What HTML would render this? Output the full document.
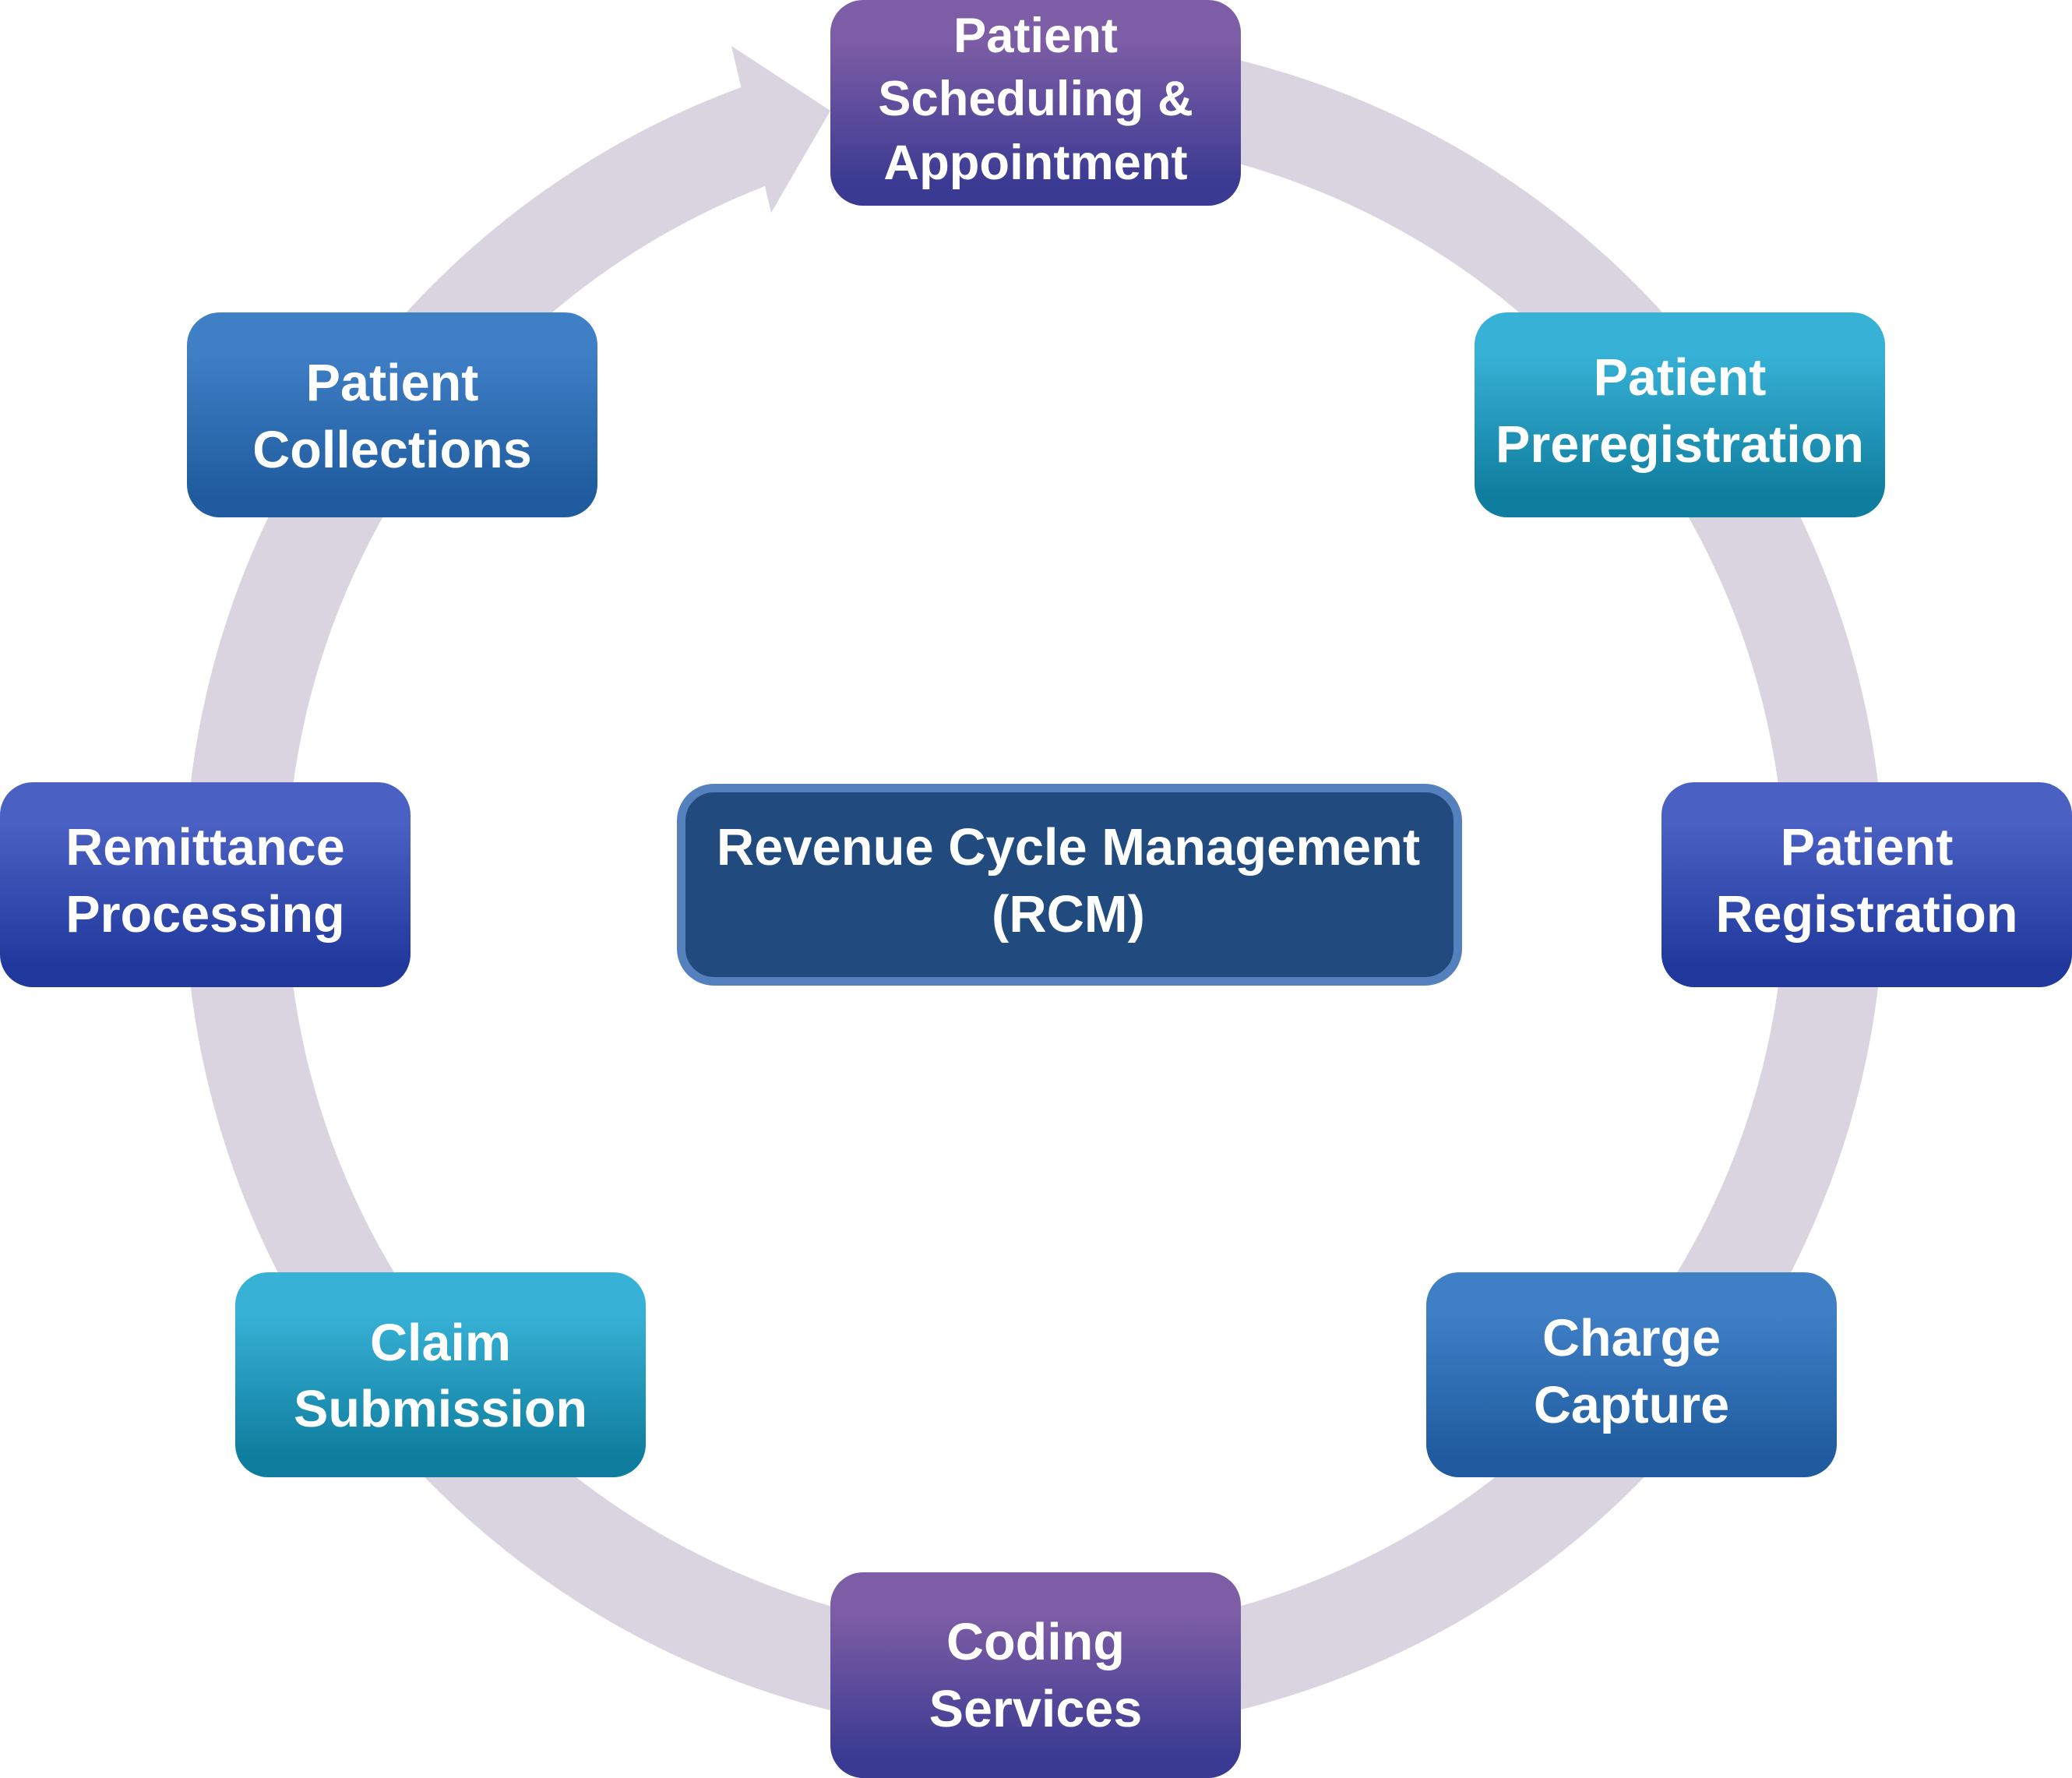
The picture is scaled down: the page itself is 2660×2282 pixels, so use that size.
<!DOCTYPE html>
<html lang="en">
<head>
<meta charset="utf-8">
<title>Revenue Cycle Management</title>
<style>
html,body{margin:0;padding:0;background:#fff;width:2660px;height:2282px;overflow:hidden}
svg{display:block}
text{font-family:"Liberation Sans",Arial,sans-serif;font-weight:700;fill:#fff;text-anchor:middle;font-size:66.5px}
</style>
</head>
<body>
<svg width="2660" height="2282" viewBox="0 0 2660 2282" xmlns="http://www.w3.org/2000/svg">
<defs>
<linearGradient id="purple" x1="0" y1="0" x2="0" y2="1"><stop offset=".2" stop-color="#7D5DA5"/><stop offset=".9" stop-color="#3A3A92"/></linearGradient>
<linearGradient id="cyan" x1="0" y1="0" x2="0" y2="1"><stop offset=".2" stop-color="#37B1D6"/><stop offset=".9" stop-color="#0F7D9E"/></linearGradient>
<linearGradient id="blue" x1="0" y1="0" x2="0" y2="1"><stop offset=".2" stop-color="#3F7FC6"/><stop offset=".9" stop-color="#1F5B9E"/></linearGradient>
<linearGradient id="indigo" x1="0" y1="0" x2="0" y2="1"><stop offset=".2" stop-color="#4A60C3"/><stop offset=".9" stop-color="#20389C"/></linearGradient>
</defs>

<path fill="#D9D4E0" d="M1330,45 A1091,1091 0 1 1 951.5,112 L939,59 L1066,142 L990,273 L982,239 A962,962 0 1 0 1330,174 Z"/>

<rect x="1066" y="0" width="527" height="264" rx="42" fill="url(#purple)"/>
<rect x="1893" y="401" width="527" height="263" rx="42" fill="url(#cyan)"/>
<rect x="2133" y="1004" width="527" height="263" rx="42" fill="url(#indigo)"/>
<rect x="1831" y="1633" width="527" height="263" rx="42" fill="url(#blue)"/>
<rect x="1066" y="2018" width="527" height="264" rx="42" fill="url(#purple)"/>
<rect x="302" y="1633" width="527" height="263" rx="42" fill="url(#cyan)"/>
<rect x="0" y="1004" width="527" height="263" rx="42" fill="url(#indigo)"/>
<rect x="240" y="401" width="527" height="263" rx="42" fill="url(#blue)"/>
<rect x="874.5" y="1011.5" width="997" height="248" rx="42" fill="#214B7E" stroke="#5580BE" stroke-width="11"/>

<text x="1329.5" y="67" style="font-size:63.3px">Patient</text>
<text x="1329.5" y="148" style="font-size:63.3px">Scheduling &amp;</text>
<text x="1329.5" y="230" style="font-size:63.3px">Appointment</text>
<text x="2156.5" y="507">Patient</text>
<text x="2156.5" y="593">Preregistration</text>
<text x="2396.5" y="1110">Patient</text>
<text x="2396.5" y="1196">Registration</text>
<text x="2094.5" y="1740">Charge</text>
<text x="2094.5" y="1826">Capture</text>
<text x="1329.5" y="2130">Coding</text>
<text x="1329.5" y="2216">Services</text>
<text x="565.5" y="1746">Claim</text>
<text x="565.5" y="1831">Submission</text>
<text x="263.5" y="1110">Remittance</text>
<text x="263.5" y="1196">Processing</text>
<text x="503.5" y="514">Patient</text>
<text x="503.5" y="600">Collections</text>
<text x="1371.5" y="1110" style="font-size:66.9px">Revenue Cycle Management</text>
<text x="1371.5" y="1196" style="font-size:66.9px">(RCM)</text>
</svg>
</body>
</html>
